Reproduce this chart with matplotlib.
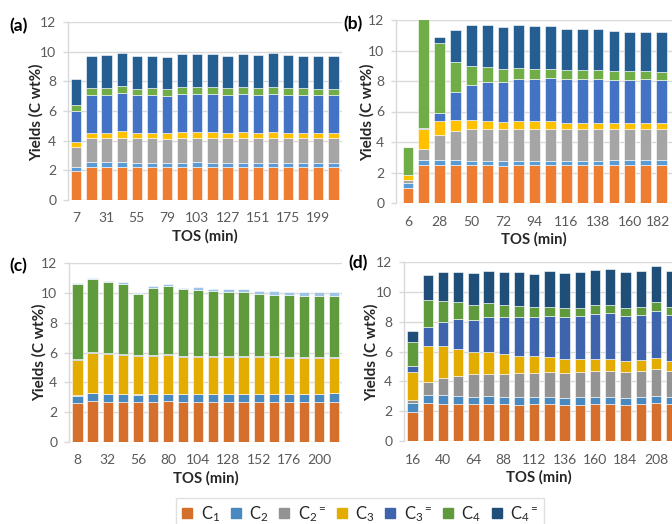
import matplotlib
matplotlib.use("Agg")
import matplotlib.pyplot as plt
from matplotlib.lines import Line2D
import matplotlib.transforms as mtransforms
import numpy as np

plt.rcParams['font.family'] = ['Lato', 'DejaVu Sans']
plt.rcParams['mathtext.fontset'] = 'custom'
plt.rcParams['mathtext.rm'] = 'Lato'
plt.rcParams['mathtext.it'] = 'Lato'

species = [r'C$_1$', r'C$_2$', r'C$_2{}^{=}$', r'C$_3$', r'C$_3{}^{=}$', r'C$_4$', r'C$_4{}^{=}$']

# ---- (a) ----
tos_a = [7, 19, 31, 43, 55, 67, 79, 91, 103, 115, 127, 139, 151, 163, 175, 187, 199, 211]
c1_a = [1.96, 2.25, 2.25, 2.25, 2.25, 2.25, 2.25, 2.25, 2.25, 2.25, 2.25, 2.25, 2.25, 2.25, 2.25, 2.25, 2.25, 2.25]
c2_a = [0.29, 0.29, 0.29, 0.33, 0.27, 0.27, 0.25, 0.27, 0.29, 0.27, 0.27, 0.27, 0.27, 0.27, 0.27, 0.27, 0.27, 0.27]
c2e_a = [1.30, 1.62, 1.64, 1.62, 1.63, 1.63, 1.64, 1.66, 1.64, 1.65, 1.63, 1.64, 1.63, 1.64, 1.63, 1.64, 1.63, 1.63]
c3_a = [0.34, 0.36, 0.36, 0.45, 0.37, 0.37, 0.40, 0.40, 0.40, 0.41, 0.39, 0.42, 0.39, 0.42, 0.39, 0.38, 0.39, 0.39]
c3e_a = [2.11, 2.58, 2.56, 2.56, 2.56, 2.56, 2.49, 2.59, 2.59, 2.57, 2.54, 2.57, 2.54, 2.59, 2.54, 2.54, 2.54, 2.54]
c4_a = [0.40, 0.45, 0.45, 0.45, 0.40, 0.45, 0.45, 0.45, 0.45, 0.45, 0.45, 0.47, 0.47, 0.45, 0.47, 0.47, 0.42, 0.42]
c4e_a = [1.73, 2.18, 2.23, 2.23, 2.23, 2.20, 2.18, 2.25, 2.25, 2.22, 2.20, 2.25, 2.25, 2.29, 2.20, 2.18, 2.19, 2.19]

# ---- (b) ----
tos_b = [6, 17, 28, 39, 50, 61, 72, 83, 94, 105, 116, 127, 138, 149, 160, 171, 182]
c1_b = [1.00, 2.47, 2.47, 2.47, 2.47, 2.47, 2.43, 2.47, 2.47, 2.47, 2.47, 2.47, 2.47, 2.47, 2.47, 2.47, 2.47]
c2_b = [0.31, 0.33, 0.33, 0.33, 0.29, 0.31, 0.31, 0.31, 0.31, 0.31, 0.31, 0.31, 0.31, 0.33, 0.33, 0.33, 0.33]
c2e_b = [0.18, 0.77, 1.65, 1.93, 2.06, 2.10, 2.08, 2.08, 2.08, 2.08, 2.04, 2.04, 2.04, 2.02, 2.02, 2.02, 2.02]
c3_b = [0.33, 1.29, 0.91, 0.72, 0.65, 0.51, 0.50, 0.50, 0.50, 0.50, 0.44, 0.44, 0.44, 0.40, 0.40, 0.40, 0.40]
c3e_b = [0.02, 0.04, 0.51, 1.86, 2.30, 2.56, 2.63, 2.74, 2.74, 2.81, 2.84, 2.84, 2.89, 2.84, 2.84, 2.88, 2.84]
c4_b = [1.82, 7.40, 4.64, 1.91, 1.23, 0.94, 0.83, 0.75, 0.70, 0.63, 0.61, 0.61, 0.56, 0.59, 0.59, 0.55, 0.56]
c4e_b = [0.00, 0.00, 0.39, 2.14, 2.65, 2.78, 2.76, 2.80, 2.78, 2.78, 2.72, 2.72, 2.68, 2.63, 2.58, 2.58, 2.57]

# ---- (c) ----
tos_c = [8, 20, 32, 44, 56, 68, 80, 92, 104, 116, 128, 140, 152, 164, 176, 188, 200, 212]
c1_c = [2.59, 2.74, 2.70, 2.70, 2.68, 2.70, 2.74, 2.70, 2.70, 2.70, 2.70, 2.70, 2.70, 2.70, 2.70, 2.70, 2.70, 2.70]
c2_c = [0.51, 0.54, 0.53, 0.53, 0.49, 0.53, 0.49, 0.49, 0.49, 0.49, 0.51, 0.51, 0.49, 0.51, 0.51, 0.53, 0.53, 0.56]
c2e_c = [0.02, 0.02, 0.02, 0.02, 0.02, 0.02, 0.02, 0.02, 0.02, 0.02, 0.02, 0.02, 0.02, 0.02, 0.02, 0.02, 0.02, 0.02]
c3_c = [2.41, 2.68, 2.66, 2.59, 2.57, 2.51, 2.57, 2.50, 2.50, 2.50, 2.48, 2.48, 2.46, 2.44, 2.39, 2.35, 2.35, 2.32]
c3e_c = [0.03, 0.03, 0.03, 0.04, 0.05, 0.05, 0.05, 0.08, 0.08, 0.08, 0.08, 0.08, 0.08, 0.08, 0.10, 0.10, 0.10, 0.10]
c4_c = [5.06, 4.94, 4.79, 4.74, 4.14, 4.52, 4.59, 4.45, 4.38, 4.31, 4.25, 4.25, 4.18, 4.13, 4.12, 4.09, 4.09, 4.09]
c4e_c = [0.02, 0.07, 0.07, 0.11, 0.07, 0.13, 0.14, 0.11, 0.20, 0.18, 0.20, 0.20, 0.17, 0.25, 0.20, 0.25, 0.25, 0.27]

# ---- (d) ----
tos_d = [16, 28, 40, 52, 64, 76, 88, 100, 112, 124, 136, 148, 160, 172, 184, 196, 208, 220]
c1_d = [1.94, 2.54, 2.50, 2.48, 2.45, 2.45, 2.45, 2.41, 2.45, 2.45, 2.41, 2.41, 2.45, 2.45, 2.41, 2.45, 2.52, 2.45]
c2_d = [0.60, 0.56, 0.56, 0.53, 0.47, 0.54, 0.49, 0.53, 0.49, 0.49, 0.47, 0.53, 0.49, 0.49, 0.49, 0.49, 0.47, 0.47]
c2e_d = [0.18, 0.87, 1.16, 1.36, 1.56, 1.52, 1.57, 1.61, 1.59, 1.66, 1.67, 1.66, 1.72, 1.72, 1.70, 1.72, 1.83, 1.74]
c3_d = [1.92, 2.41, 2.12, 1.81, 1.50, 1.47, 1.29, 1.18, 1.14, 1.02, 0.96, 0.91, 0.85, 0.85, 0.78, 0.74, 0.73, 0.69]
c3e_d = [0.42, 1.29, 1.67, 1.98, 2.10, 2.32, 2.50, 2.57, 2.63, 2.77, 2.79, 2.85, 3.01, 3.06, 2.98, 3.05, 3.19, 3.13]
c4_d = [1.59, 1.79, 1.40, 1.16, 1.02, 0.93, 0.80, 0.76, 0.71, 0.62, 0.60, 0.58, 0.58, 0.53, 0.54, 0.54, 0.56, 0.53]
c4e_d = [0.71, 1.67, 1.92, 2.03, 2.14, 2.19, 2.23, 2.25, 2.19, 2.41, 2.39, 2.39, 2.37, 2.43, 2.41, 2.39, 2.43, 2.37]

# colour sets
bright = ['#ED7D31', '#5B9BD5', '#A5A5A5', '#FFC000', '#4472C4', '#70AD47', '#255E91']
deep = ['#D4702B', '#4A88C0', '#939393', '#E2AC00', '#3E64AE', '#5F9A3D', '#1F4E79']
deep_c = deep[:6] + ['#9DC3E6']

W, H = 672, 524
fig = plt.figure(figsize=(W / 100, H / 100), dpi=100)


def px_axes(left, right, top, bottom):
    return fig.add_axes([left / W, 1 - bottom / H, (right - left) / W, (bottom - top) / H])


panels = [
    ('(a)', tos_a, [c1_a, c2_a, c2e_a, c3_a, c3e_a, c4_a, c4e_a], bright,
     (68, 342, 22, 200), (-0.55, 17.57), (9, 26), (36, 112)),
    ('(b)', tos_b, [c1_b, c2_b, c2e_b, c3_b, c3e_b, c4_b, c4e_b], bright,
     (396, 672, 20, 203), (-0.76, 16.67), (343, 24), (367, 112)),
    ('(c)', tos_c, [c1_c, c2_c, c2e_c, c3_c, c3e_c, c4_c, c4e_c], deep_c,
     (69, 342, 263, 442), (-0.56, 17.52), (9, 266), (39, 352)),
    ('(d)', tos_d, [c1_d, c2_d, c2e_d, c3_d, c3e_d, c4_d, c4e_d], deep,
     (404, 674, 262, 441), (-0.56, 17.19), (348, 263), (371, 352)),
]

grid_col = '#D9D9D9'
tick_col = '#595959'

axes = []
for tag, tos, series, cols, box, xl, tagpos, ylpos in panels:
    ax = px_axes(*box)
    axes.append(ax)
    x = np.arange(len(tos))
    base = np.zeros(len(tos))
    for vals, col in zip(series, cols):
        ax.bar(x, vals, bottom=base, width=0.68, color=col,
               edgecolor='white', linewidth=0.4, zorder=3)
        base = base + np.array(vals)
    ax.set_ylim(0, 12)
    ax.set_xlim(*xl)
    ax.set_yticks([0, 2, 4, 6, 8, 10, 12])
    ax.set_xticks(x[::2])
    ax.set_xticklabels([str(t) for t in tos[::2]])
    ax.yaxis.grid(True, color=grid_col, linewidth=1.0, zorder=0)
    ax.set_axisbelow(True)
    for s in ['top', 'right', 'bottom']:
        ax.spines[s].set_visible(False)
    ax.spines['left'].set_color(grid_col)
    ax.spines['left'].set_linewidth(1.0)
    ax.tick_params(axis='y', length=3.5, color=grid_col, width=1.0, pad=5,
                   labelsize=10, labelcolor=tick_col)
    ax.tick_params(axis='x', length=0, pad=9, labelsize=10, labelcolor=tick_col)
    ax.set_xlabel('TOS (min)', fontsize=10.7, fontweight='bold', labelpad=3.5, color='#262626')
    fig.text(ylpos[0] / W, 1 - ylpos[1] / H, 'Yields (C wt%)', rotation=90,
             ha='center', va='center', fontsize=11, fontweight='bold', color='#262626')
    fig.text(tagpos[0] / W, 1 - tagpos[1] / H, tag, ha='left', va='center',
             fontsize=12.5, fontweight='bold', color='black')

# keep the last tick label of (b) inside the figure edge
last = axes[1].get_xticklabels()[-1]
last.set_transform(last.get_transform() +
                   mtransforms.ScaledTranslation(-3 / 100, 0, fig.dpi_scale_trans))

handles = [Line2D([], [], linestyle='none', marker='s', markersize=7,
                  markerfacecolor=c, markeredgecolor=c) for c in deep]
leg = fig.legend(handles, species, loc='upper center', ncol=7,
                 bbox_to_anchor=(360 / W, 1 - 498 / H), borderaxespad=0,
                 frameon=True, fontsize=12, handlelength=0.7, handletextpad=0.45,
                 columnspacing=0.6, borderpad=0.35, fancybox=False)
leg.get_frame().set_edgecolor(grid_col)
leg.get_frame().set_linewidth(1.0)
for t in leg.get_texts():
    t.set_color('#262626')

fig.savefig('out.png', dpi=100)
